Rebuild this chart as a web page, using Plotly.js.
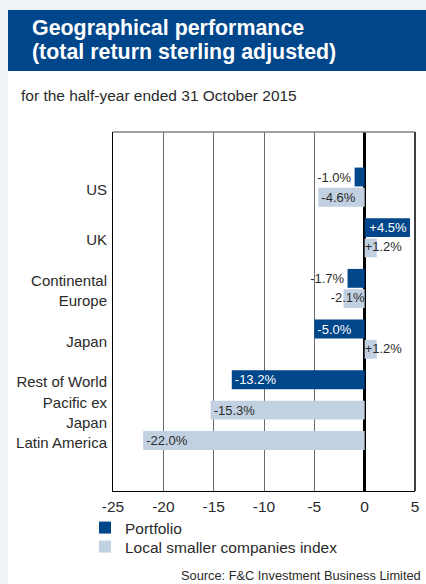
<!DOCTYPE html>
<html><head><meta charset="utf-8">
<script src="https://cdn.plot.ly/plotly-3.0.1.min.js"></script>
<style>html,body{margin:0;padding:0;background:#eef3f8;}#chart{width:426px;height:584px;}</style>
</head><body><div id="chart"></div>
<script>
// ---- data ----
const regions = ['US', 'UK', 'Continental<br>Europe', 'Japan', 'Rest of World', 'Pacific ex<br>Japan', 'Latin America'];
const portfolio = [-1.0, 4.5, -1.7, -5.0, -13.2, null, null];
const localIndex = [-4.6, 1.2, -2.1, 1.2, null, -15.3, -22.0];
const seriesNames = ['Portfolio', 'Local smaller companies index'];
const xTickVals = [-25, -20, -15, -10, -5, 0, 5];
const xTickText = ['-25', '-20', '-15', '-10', '-5', '0', '5'];

// ---- styling / layout constants ----
const W = 426, H = 584;
const M = {l: 113, r: 11, t: 132, b: 93};
const PW = W - M.l - M.r, PH = H - M.t - M.b;
const xp = px => (px - M.l) / PW;
const yp = py => (H - M.b - py) / PH;
const DARK = '#00468b', LIGHT = '#c1d1e1', TXT = '#2a2a2a';
const FONT = 'Liberation Sans, Arial, Helvetica, sans-serif';
const FIT = 3;            // values smaller than this do not hold their label inside the bar
const LABEL_SHIFT = 0.12; // region labels sit slightly below the group centre

// slot layout: bars of a region sit next to each other, regions separated by half a slot
const series = [portfolio, localIndex];
const slots = [[], []];
const groupCenter = [];
let pos = 0;
regions.forEach((r, i) => {
  const ys = [];
  series.forEach((s, k) => {
    if (s[i] !== null) { slots[k].push({i: i, v: s[i], y: pos}); ys.push(pos); pos += 1; }
  });
  groupCenter.push(ys.reduce((a, b) => a + b, 0) / ys.length + LABEL_SHIFT);
  pos += 0.5;
});
const fmt = v => (v > 0 ? '+' : '') + v.toFixed(1) + '%';

const colors = [DARK, LIGHT];
const inColors = ['#ffffff', TXT];
const legends = ['legend', 'legend2'];
const traces = [];
slots.forEach((pts, k) => {
  traces.push({
    type: 'bar', orientation: 'h', name: seriesNames[k], legend: legends[k],
    x: pts.map(p => p.v), y: pts.map(p => p.y), width: 0.93,
    marker: {color: colors[k], line: {width: 0}},
    text: pts.map(p => (k === 0 || Math.abs(p.v) >= FIT) ? fmt(p.v) : ''),
    textposition: pts.map(p => Math.abs(p.v) >= FIT ? 'inside' : (k === 0 ? 'outside' : 'none')),
    insidetextanchor: 'end', textangle: 0, constraintext: 'none',
    insidetextfont: {family: FONT, size: 13, color: inColors[k]},
    outsidetextfont: {family: FONT, size: 13, color: TXT},
    cliponaxis: false, hoverinfo: 'skip'
  });
});
// labels of small index bars sit at the bar base
const small = slots[1].filter(p => Math.abs(p.v) < FIT);
traces.push({
  type: 'scatter', mode: 'text', showlegend: false, hoverinfo: 'skip',
  x: small.map(p => 0), y: small.map(p => p.y),
  text: small.map(p => fmt(p.v)),
  textposition: small.map(p => p.v > 0 ? 'middle right' : 'middle left'),
  textfont: {family: FONT, size: 13, color: TXT}, cliponaxis: false
});

const unitPx = 20.27, firstPx = 177;
const yTop = (M.t - firstPx) / unitPx, yBot = (H - M.b - firstPx) / unitPx;

const legendBase = {
  x: xp(85), xanchor: 'left', yanchor: 'middle',
  orientation: 'v', bgcolor: 'rgba(0,0,0,0)', borderwidth: 0,
  font: {family: FONT, size: 15.5, color: TXT}
};

const layout = {
  width: W, height: H, margin: M,
  paper_bgcolor: '#eef3f8', plot_bgcolor: '#ffffff',
  font: {family: FONT, color: TXT},
  barmode: 'overlay', showlegend: true, hovermode: false,
  xaxis: {
    range: [-25, 5], tickvals: xTickVals, ticktext: xTickText,
    showgrid: true, gridcolor: '#6a6a6a', gridwidth: 1,
    zeroline: true, zerolinecolor: '#000000', zerolinewidth: 3,
    showline: true, linecolor: '#000000', linewidth: 1,
    ticks: '', ticklabelstandoff: 1,
    tickfont: {family: FONT, size: 15.5, color: TXT}, fixedrange: true
  },
  yaxis: {
    range: [yBot, yTop], tickvals: groupCenter, ticktext: regions,
    showgrid: false, zeroline: false,
    showline: true, linecolor: '#000000', linewidth: 1,
    ticks: '', ticklabelstandoff: 2,
    tickfont: {family: FONT, size: 15, color: TXT}, fixedrange: true
  },
  legend: Object.assign({}, legendBase, {y: yp(528)}),
  legend2: Object.assign({}, legendBase, {y: yp(547)}),
  shapes: [
    {type: 'rect', xref: 'paper', yref: 'paper', x0: xp(8), x1: xp(430), y0: yp(10), y1: yp(590),
     fillcolor: '#ffffff', line: {width: 0}, layer: 'below'},
    {type: 'rect', xref: 'paper', yref: 'paper', x0: xp(8), x1: xp(430), y0: yp(10), y1: yp(71),
     fillcolor: '#00468b', line: {width: 0}, layer: 'below'},
    {type: 'line', xref: 'paper', yref: 'paper', x0: 0, x1: 1, y0: 1, y1: 1,
     line: {color: '#808080', width: 1.5}},
    {type: 'line', xref: 'paper', yref: 'paper', x0: 1, x1: 1, y0: 0, y1: 1,
     line: {color: '#404040', width: 2}}
  ],
  annotations: [
    {xref: 'paper', yref: 'paper', x: xp(30), y: yp(28), xanchor: 'left', yanchor: 'middle',
     text: '<b>Geographical performance</b>', showarrow: false,
     font: {family: FONT, size: 21.4, color: '#ffffff'}},
    {xref: 'paper', yref: 'paper', x: xp(30), y: yp(52), xanchor: 'left', yanchor: 'middle',
     text: '<b>(total return sterling adjusted)</b>', showarrow: false,
     font: {family: FONT, size: 21.4, color: '#ffffff'}},
    {xref: 'paper', yref: 'paper', x: xp(19), y: yp(96), xanchor: 'left', yanchor: 'middle',
     text: 'for the half-year ended 31 October 2015', showarrow: false,
     font: {family: FONT, size: 15.5, color: TXT}},
    {xref: 'paper', yref: 'paper', x: xp(423), y: yp(575), xanchor: 'right', yanchor: 'middle',
     text: 'Source: F&C Investment Business Limited', showarrow: false,
     font: {family: FONT, size: 12.8, color: TXT}}
  ]
};

Plotly.newPlot('chart', traces, layout, {staticPlot: true, displayModeBar: false});
</script>
</body></html>
